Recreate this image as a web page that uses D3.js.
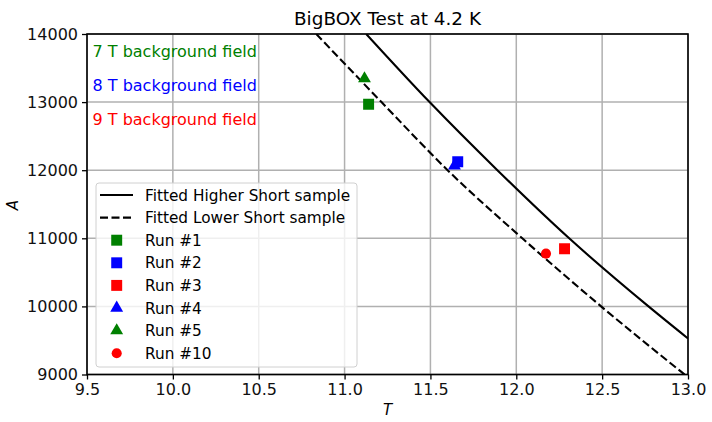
<!DOCTYPE html>
<meta charset="utf-8" />
<html>
<head>
<script src="https://d3js.org/d3.v7.min.js"></script>
<style>
  body { margin: 0; background: #fff; }
  text { font-family: "DejaVu Sans", sans-serif; }
</style>
</head>
<body>
<script type="text/javascript">
// axis ticks
var xTicks = [9.5, 10.0, 10.5, 11.0, 11.5, 12.0, 12.5, 13.0];
var yTicks = [9000, 10000, 11000, 12000, 13000, 14000];

// fitted curves (T, A)
var higherT = [11.126, 11.495, 11.89, 12.308, 12.77, 13.0];
var higherA = [14000, 13000, 12000, 11000, 10000, 9529];
var lowerT = [10.835, 11.215, 11.60, 12.035, 12.494, 12.98];
var lowerA = [14000, 13000, 12000, 11000, 10000, 9000];

// measured runs
var runNames = ['Run #1', 'Run #2', 'Run #3', 'Run #4', 'Run #5', 'Run #10'];
var runT = [11.14, 11.659, 12.281, 11.64, 11.116, 12.173];
var runA = [12968, 12125, 10846, 12065, 13345, 10775];
var runColors = ['green', 'blue', 'red', 'blue', 'green', 'red'];
var runShapes = ['square', 'square', 'square', 'triangle', 'triangle', 'circle'];

var fieldLabels = ['7 T background field', '8 T background field', '9 T background field'];
var fieldColors = ['green', 'blue', 'red'];

var margin = {top: 34, right: 24, bottom: 47.5, left: 87};
var W = 712, H = 422;
var width = W - margin.left - margin.right;
var height = H - margin.top - margin.bottom;

var svg = d3.select('body').append('svg')
    .attr('width', W)
    .attr('height', H);

var g = svg.append('g')
    .attr('transform', 'translate(' + margin.left + ',' + margin.top + ')');

var x = d3.scaleLinear().domain([9.5, 13.0]).range([0, width]);
var y = d3.scaleLinear().domain([9000, 14000]).range([height, 0]);

g.append('clipPath').attr('id', 'clip')
  .append('rect').attr('width', width).attr('height', height);

// grid
g.append('g').selectAll('line').data(xTicks).enter().append('line')
    .attr('x1', function(d) { return x(d); }).attr('x2', function(d) { return x(d); })
    .attr('y1', 0).attr('y2', height)
    .attr('stroke', '#b0b0b0').attr('stroke-width', 1.5);
g.append('g').selectAll('line').data(yTicks).enter().append('line')
    .attr('y1', function(d) { return y(d); }).attr('y2', function(d) { return y(d); })
    .attr('x1', 0).attr('x2', width)
    .attr('stroke', '#b0b0b0').attr('stroke-width', 1.5);

// fitted lines
var line = d3.line()
    .x(function(d) { return x(d[0]); })
    .y(function(d) { return y(d[1]); })
    .curve(d3.curveMonotoneX);

var plot = g.append('g').attr('clip-path', 'url(#clip)');
plot.append('path')
    .attr('d', line(d3.zip(higherT, higherA)))
    .attr('fill', 'none').attr('stroke', 'black').attr('stroke-width', 2.1);
plot.append('path')
    .attr('d', line(d3.zip(lowerT, lowerA)))
    .attr('fill', 'none').attr('stroke', 'black').attr('stroke-width', 2.1)
    .attr('stroke-dasharray', '8,3.5');

var symSize = {square: 120, triangle: 72, circle: 80};
function marker(sel, shape, color) {
  var sym = shape == 'square' ? d3.symbolSquare : shape == 'triangle' ? d3.symbolTriangle : d3.symbolCircle;
  sel.append('path')
    .attr('d', d3.symbol().type(sym).size(symSize[shape])())
    .attr('fill', color);
}

runNames.forEach(function(n, i) {
  var m = plot.append('g')
      .attr('transform', 'translate(' + x(runT[i]) + ',' + y(runA[i]) + ')');
  marker(m, runShapes[i], runColors[i]);
});

// background field notes
g.selectAll('.field').data(fieldLabels).enter().append('text')
    .attr('class', 'field')
    .attr('x', 5.5)
    .attr('y', function(d, i) { return 22.7 + i * 34; })
    .attr('fill', function(d, i) { return fieldColors[i]; })
    .style('font-size', '16px')
    .text(function(d) { return d; });

// axes
var xAxis = g.append('g')
    .attr('transform', 'translate(0,' + height + ')')
    .call(d3.axisBottom(x).tickValues(xTicks).tickFormat(d3.format('.1f')).tickSizeOuter(0).tickSize(5).tickPadding(4));
var yAxis = g.append('g')
    .call(d3.axisLeft(y).tickValues(yTicks).tickFormat(d3.format('d')).tickSizeOuter(0).tickSize(5).tickPadding(4));
[xAxis, yAxis].forEach(function(a) {
  a.select('.domain').remove();
  a.selectAll('line').attr('stroke', 'black').attr('stroke-width', 1.3);
  a.selectAll('text').attr('fill', '#111').style('font-size', '16px').style('font-family', '"DejaVu Sans", sans-serif');
});

g.append('rect')
    .attr('width', width).attr('height', height)
    .attr('fill', 'none').attr('stroke', 'black').attr('stroke-width', 1.6);

// title and labels
svg.append('text')
    .attr('x', margin.left + width / 2).attr('y', 25)
    .attr('text-anchor', 'middle')
    .style('font-size', '18.4px')
    .text('BigBOX Test at 4.2 K');
svg.append('text')
    .attr('x', margin.left + width / 2).attr('y', 415)
    .attr('text-anchor', 'middle')
    .style('font-size', '15px').style('font-style', 'italic')
    .text('T');
svg.append('text')
    .attr('transform', 'translate(18,205) rotate(-90)')
    .attr('text-anchor', 'middle')
    .style('font-size', '15px').style('font-style', 'italic')
    .text('A');

// legend
var legend = g.append('g').attr('transform', 'translate(9,149)');
legend.append('rect')
    .attr('width', 261).attr('height', 184)
    .attr('rx', 3)
    .attr('fill', 'white').attr('fill-opacity', 0.8)
    .attr('stroke', '#d0d0d0').attr('stroke-width', 1);

var legendNames = ['Fitted Higher Short sample', 'Fitted Lower Short sample'].concat(runNames);
legendNames.forEach(function(n, i) {
  var ly = 12 + i * 22.6;
  if (i < 2) {
    legend.append('line')
        .attr('x1', 4).attr('x2', 37).attr('y1', ly).attr('y2', ly)
        .attr('stroke', 'black').attr('stroke-width', 2.1)
        .attr('stroke-dasharray', i == 1 ? '8,3.5' : null);
  } else {
    var m = legend.append('g').attr('transform', 'translate(20.7,' + ly + ')');
    marker(m, runShapes[i - 2], runColors[i - 2]);
  }
  legend.append('text')
      .attr('x', 49).attr('y', ly).attr('dy', '0.36em')
      .style('font-size', '15.3px')
      .text(n);
});
</script>
</body>
</html>
